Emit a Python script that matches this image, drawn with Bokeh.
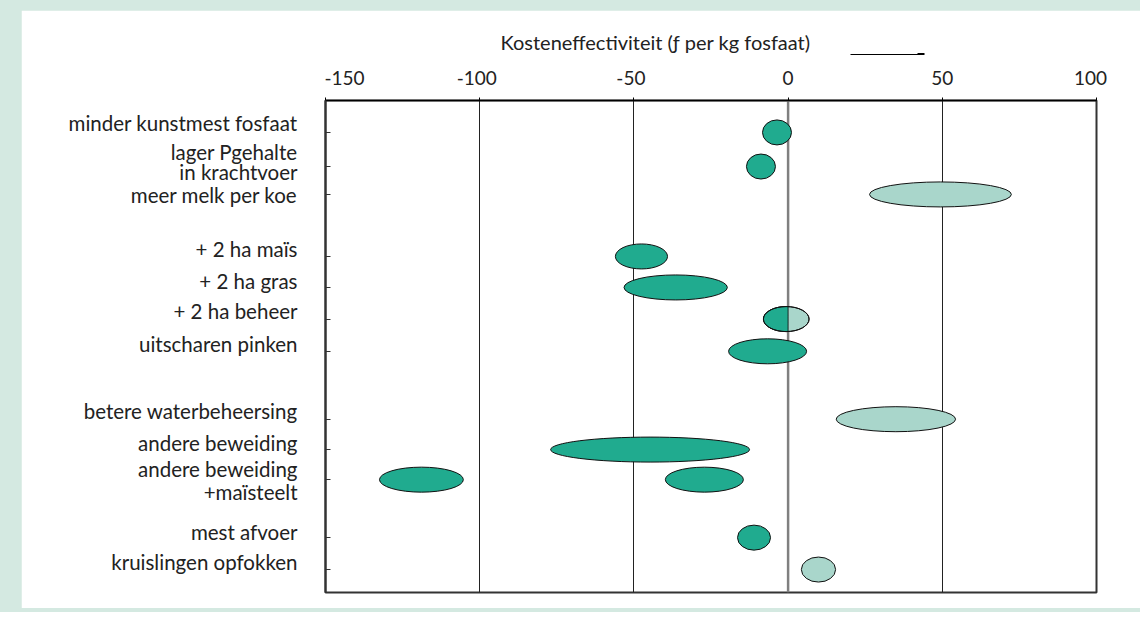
import numpy as np
from bokeh.plotting import figure
from bokeh.layouts import column
from bokeh.models import (Range1d, FixedTicker, Title, Arrow, NormalHead, LinearAxis,
                          Span, ColumnDataSource)
from bokeh.embed import file_html
from bokeh.resources import INLINE

# ---------------- data ----------------
measures = ["minder kunstmest fosfaat", "lager Pgehalte\nin krachtvoer", "meer melk per koe",
            "+ 2 ha maïs", "+ 2 ha gras", "+ 2 ha beheer", "uitscharen pinken",
            "betere waterbeheersing", "andere beweiding", "andere beweiding\n+maïsteelt",
            "mest afvoer", "kruislingen opfokken"]
rows = [1.03, 2.13, 3.03, 5.03, 6.03, 7.05, 8.09, 10.28, 11.26, 12.23, 14.1, 15.13]

# cost-effectiveness ranges (low, high) per ellipse, row index, kind
ell_row  = [0, 1, 2, 3, 4, 5, 6, 7, 8, 9, 9, 10, 11]
ell_low  = [-8.3, -13.5, 26.4, -56.0, -53.2, -8.0, -19.3, 15.6, -77.0, -132.5, -39.8, -16.4, 4.3]
ell_high = [1.1, -4.1, 72.4, -39.1, -19.7, 6.8, 6.0, 54.3, -12.5, -105.3, -14.5, -5.7, 15.4]
ell_kind = ["dark", "dark", "light", "dark", "dark", "split", "dark", "light", "dark",
            "dark", "dark", "dark", "light"]

x_ticks = [-150, -100, -50, 0, 50, 100]
x_tick_labels = ["-150", "-100", "-50", "0", "50", "100"]
grid_ticks = [-100, -50, 50]
title_text = "Kosteneffectiviteit (ƒ per kg fosfaat)"

DARK = "#20ab8f"
LIGHT = "#a9d6cb"
FRAME_GREEN = "#d4e9e1"
FONT = "Lato"
FS = "19px"
FS_T = "20px"
FS_Y = "20.5px"
TXT = "#222222"

# label nudges (px) per text line, relative to the row tick
label_dy = [[-9], [-15, 5], [1], [-7], [-6], [-8], [-7], [-8], [-7], [-11, 12], [-6], [-8]]

# ---------------- figure ----------------
Y_END = 15.87
FH, FW = 492, 771
p = figure(frame_width=FW, frame_height=FH,
           min_border_left=304, min_border_right=44, min_border_top=90, min_border_bottom=16,
           x_range=Range1d(-150, 100), y_range=Range1d(Y_END, 0),
           x_axis_location="above", output_backend="svg", toolbar_location=None,
           border_fill_color="white", background_fill_color="white",
           outline_line_color="#333333", outline_line_width=2)
p.margin = (10, 0, 4, 21)
px_per_unit_x = FW / 250.0
px_per_unit_y = FH / Y_END

# x axis (top): tick marks only
xa = p.xaxis[0]
xa.ticker = FixedTicker(ticks=x_ticks)
xa.major_label_overrides = {t: "" for t in x_ticks}
xa.major_tick_in = 0
xa.major_tick_out = 3
xa.minor_tick_out = 0
xa.minor_tick_in = 0
xa.axis_line_color = "black"
xa.axis_line_width = 1.5
xa.major_tick_line_color = "black"
xa.major_label_text_font_size = "1px"
xa.major_label_standoff = 0

# x tick labels (second top axis); outer labels nudged inwards like the original
x_nudge_px = [19, -3, -3, 0, 0, -6]
x_label_pos = [t + n / px_per_unit_x for t, n in zip(x_ticks, x_nudge_px)]
xl = LinearAxis(ticker=FixedTicker(ticks=x_label_pos),
                major_label_overrides={lp: s for lp, s in zip(x_label_pos, x_tick_labels)},
                axis_line_color=None, major_tick_line_color=None, minor_tick_line_color=None,
                major_tick_in=0, major_tick_out=0, minor_tick_in=0, minor_tick_out=0,
                major_label_standoff=13, major_label_text_font=FONT,
                major_label_text_font_size=FS, major_label_text_color=TXT,
                axis_label="\u00a0", axis_label_text_font_size="8px", axis_label_standoff=1)
p.add_layout(xl, "above")

# arrow shaft: a bounded axis line above the tick labels
arrow_from, arrow_to = 20.2, 44.2
xarr = LinearAxis(bounds=(arrow_from, arrow_to), ticker=FixedTicker(ticks=[]),
                  axis_line_color="black", axis_line_width=1,
                  major_tick_line_color=None, minor_tick_line_color=None,
                  major_tick_in=0, major_tick_out=0, minor_tick_in=0, minor_tick_out=0,
                  major_label_standoff=0, major_label_text_font_size="1px")
p.add_layout(xarr, "above")

# y axis (left): tick marks only
ya = p.yaxis[0]
ya.ticker = FixedTicker(ticks=rows)
ya.major_label_overrides = {r: "" for r in rows}
ya.major_tick_in = 5
ya.major_tick_out = 0
ya.minor_tick_in = 0
ya.minor_tick_out = 0
ya.major_label_standoff = 0
ya.major_label_text_font_size = "1px"
ya.axis_line_color = "#333333"
ya.axis_line_width = 2
ya.major_tick_line_color = "#333333"

# y labels: second left axis, one tick per text line
lab_pos, lab_txt = [], []
for r, m, dys in zip(rows, measures, label_dy):
    for ln, o in zip(m.split("\n"), dys):
        lab_pos.append(r + o / px_per_unit_y)
        lab_txt.append(ln)
la = LinearAxis(ticker=FixedTicker(ticks=lab_pos),
                major_label_overrides={lp: t for lp, t in zip(lab_pos, lab_txt)},
                axis_line_color=None, major_tick_line_color=None, minor_tick_line_color=None,
                major_tick_in=0, major_tick_out=0, minor_tick_in=0, minor_tick_out=0,
                major_label_standoff=28, major_label_text_font=FONT,
                major_label_text_font_size=FS_Y, major_label_text_color=TXT)
p.add_layout(la, "left")

# grid
p.ygrid.visible = False
p.xgrid.ticker = FixedTicker(ticks=grid_ticks)
p.xgrid.grid_line_color = "#222222"
p.xgrid.grid_line_width = 1
p.add_layout(Span(location=0, dimension="height", line_color="#808080", line_width=2.5,
                  level="underlay"))

# ellipses
xs = [(lo + hi) / 2 for lo, hi in zip(ell_low, ell_high)]
ws = [hi - lo for lo, hi in zip(ell_low, ell_high)]
ys = [rows[i] for i in ell_row]
fills = [DARK if k == "dark" else LIGHT for k in ell_kind]
src = ColumnDataSource(dict(x=xs, y=ys, w=ws, c=fills))
p.ellipse(x="x", y="y", width="w", height=25, height_units="screen", source=src,
          fill_color="c", line_color="#111111", line_width=1)

# split ellipse: dark part left of zero
for k, cx, cy, w in zip(ell_kind, xs, ys, ws):
    if k == "split":
        t = np.linspace(0, 2 * np.pi, 200)
        ex = np.minimum(cx + (w / 2) * np.cos(t), 0)
        ey = cy + (12.5 / px_per_unit_y) * np.sin(t)
        p.patch(ex, ey, fill_color=DARK, line_color="#111111", line_width=1)
        p.ellipse(x=cx, y=cy, width=w, height=25, height_units="screen",
                  fill_color=None, line_color="#111111", line_width=1)

# axis title
p.add_layout(Title(text=title_text, align="left", offset=175, standoff=1,
                   text_font=FONT, text_font_size=FS_T, text_font_style="normal",
                   text_color=TXT), "above")
# arrow head
p.add_layout(Arrow(x_start=893, y_start=43, x_end=903, y_end=43,
                   start_units="canvas", end_units="canvas",
                   line_color="black", line_width=1,
                   end=NormalHead(size=7, fill_color="black", line_color="black")))

layout = column(p, styles={"background-color": FRAME_GREEN})

open("out.html", "w").write(file_html(layout, INLINE))
